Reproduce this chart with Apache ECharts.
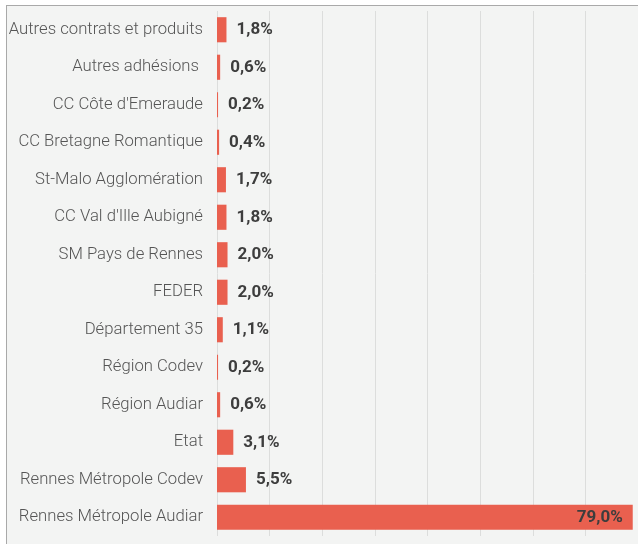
<!DOCTYPE html>
<html>
<head>
<meta charset="utf-8">
<script src="https://cdn.jsdelivr.net/npm/echarts@6/dist/echarts.min.js"></script>
<style>
  html, body { margin: 0; padding: 0; background: #ffffff; }
  #frame {
    position: absolute; left: 6px; top: 5px; width: 640px; height: 545px;
    background: #f3f4f3; border-left: 1px solid #a9a9a9; border-top: 1px solid #a9a9a9;
  }
  #chart { position: absolute; left: 0; top: 0; width: 638px; height: 544px; }
</style>
</head>
<body>
<div id="frame"></div>
<div id="chart"></div>
<script>
  // catégories (de haut en bas)
  const categories = [
    'Autres contrats et produits',
    'Autres adhésions ',
    "CC Côte d'Emeraude",
    'CC Bretagne Romantique',
    'St-Malo Agglomération',
    "CC Val d'Ille Aubigné",
    'SM Pays de Rennes',
    'FEDER',
    'Département 35',
    'Région Codev',
    'Région Audiar',
    'Etat',
    'Rennes Métropole Codev',
    'Rennes Métropole Audiar'
  ]

  // parts en %
  const shares = [1.8, 0.6, 0.2, 0.4, 1.7, 1.8, 2.0, 2.0, 1.1, 0.2, 0.6, 3.1, 5.5, 79.0]

  const barColor = '#e9604f'
  const fmt = v => v.toFixed(1).replace('.', ',') + '%'

  const chart = echarts.init(document.getElementById('chart'))
  chart.setOption({
    animation: false,
    grid: { left: 217, right: 0, top: 11, bottom: 8 },
    xAxis: {
      type: 'value',
      min: 0,
      max: 80,
      interval: 10,
      axisLabel: { show: false },
      axisLine: { show: false },
      axisTick: { show: false },
      splitLine: { lineStyle: { color: '#dcdddc', width: 1 } }
    },
    yAxis: {
      type: 'category',
      inverse: true,
      data: categories,
      axisLine: { show: false },
      axisTick: { show: false },
      axisLabel: {
        margin: 14,
        color: '#555555',
        fontSize: 16.7,
        fontFamily: 'Roboto',
        fontWeight: 300
      }
    },
    series: [
      {
        type: 'bar',
        barCategoryGap: '33%',
        itemStyle: { color: barColor },
        label: {
          show: true,
          position: 'right',
          distance: 10,
          color: '#3d3d3d',
          fontSize: 17,
          fontWeight: 'bold',
          fontFamily: 'Roboto',
          formatter: p => fmt(p.value)
        },
        data: shares.map(v => v > 50
          ? { value: v, label: { position: 'insideRight', distance: 10 } }
          : v)
      }
    ]
  })
</script>
</body>
</html>
